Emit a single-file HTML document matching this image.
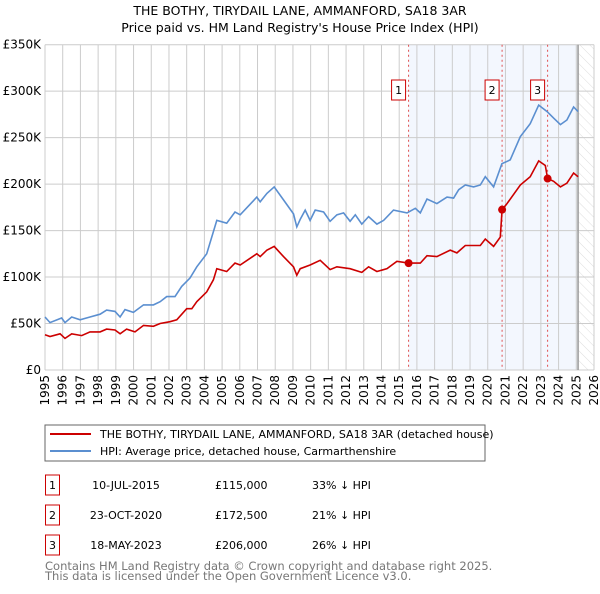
<!DOCTYPE html>
<html><head><meta charset="utf-8"><style>
body{margin:0;background:#fff;font-family:"DejaVu Sans","Liberation Sans",sans-serif;}
svg text{font-family:"DejaVu Sans","Liberation Sans",sans-serif;}
</style></head><body>
<svg id="chart" width="600" height="590" xmlns="http://www.w3.org/2000/svg">
<defs><pattern id="hatch" width="7" height="7" patternUnits="userSpaceOnUse" patternTransform="rotate(-45)"><line x1="0" y1="0" x2="0" y2="7" stroke="#d4d4d4" stroke-width="0.8"/></pattern></defs>
<text x="300" y="15" text-anchor="middle" font-size="12.5" fill="#000">THE BOTHY, TIRYDAIL LANE, AMMANFORD, SA18 3AR</text>
<text x="300" y="32" text-anchor="middle" font-size="12.5" fill="#000">Price paid vs. HM Land Registry's House Price Index (HPI)</text>
<g id="grid"></g><g id="marks"></g>
<rect x="45" y="425" width="440" height="36" fill="#fff" stroke="#666"/>
<line x1="50" y1="434" x2="91" y2="434" stroke="#cc0000" stroke-width="2"/>
<text x="100" y="438" font-size="11">THE BOTHY, TIRYDAIL LANE, AMMANFORD, SA18 3AR (detached house)</text>
<line x1="50" y1="451" x2="91" y2="451" stroke="#5b8fd0" stroke-width="2"/>
<text x="100" y="455" font-size="11">HPI: Average price, detached house, Carmarthenshire</text>
<g id="table"></g>
<text x="45" y="570" font-size="11.5" fill="#777">Contains HM Land Registry data © Crown copyright and database right 2025.</text>
<text x="45" y="580" font-size="11.5" fill="#777">This data is licensed under the Open Government Licence v3.0.</text>
</svg>
<script>
const hpiYears=[1995.00,1995.28,1995.94,1996.13,1996.51,1996.98,1997.54,1998.11,1998.48,1998.95,1999.24,1999.52,1999.99,2000.56,2001.12,2001.5,2001.87,2002.34,2002.72,2003.19,2003.57,2004.13,2004.70,2005.26,2005.73,2006.02,2006.96,2007.15,2007.53,2007.94,2008.47,2009.03,2009.22,2009.41,2009.69,2009.97,2010.26,2010.73,2011.1,2011.48,2011.86,2012.23,2012.52,2012.89,2013.27,2013.74,2014.12,2014.68,2015.44,2015.91,2016.19,2016.57,2017.13,2017.7,2018.07,2018.36,2018.73,2019.2,2019.58,2019.86,2020.33,2020.8,2021.27,2021.84,2022.4,2022.88,2023.35,2023.72,2024.1,2024.47,2024.85,2025.1];
const hpiValues=[57,51,56,51,57,54,57,60,64.5,63,57,65,62,70,70,73.5,79,79,90,99,111,125,161,158,170,167,186,181,190,197,183,168,154,162,172,161,172,170,160,167,169,160,167,157,165,157,161,172,169,174,169,184,179,186,185,194,199,197,199,208,197,222,226,251,265,285,278,271,264,269,283,278];
const redYears=[1995.00,1995.28,1995.85,1996.13,1996.51,1997.07,1997.54,1998.11,1998.48,1998.95,1999.24,1999.61,2000.08,2000.56,2001.12,2001.5,2002.06,2002.44,2003.0,2003.29,2003.57,2004.13,2004.51,2004.70,2005.26,2005.73,2006.02,2006.96,2007.15,2007.53,2007.94,2008.47,2009.03,2009.22,2009.41,2009.97,2010.54,2011.1,2011.48,2012.23,2012.89,2013.27,2013.74,2014.31,2014.87,2015.53,2016.19,2016.57,2017.13,2017.88,2018.26,2018.73,2019.58,2019.86,2020.33,2020.71,2020.81,2021.09,2021.84,2022.4,2022.88,2023.25,2023.38,2023.72,2024.1,2024.47,2024.85,2025.1];
const redValues=[38,36,39,34,39,37,41,41,44,43,39,44,41,48,47,50,52,54,66,66,73.5,84,97,109,106,115,113,125,122,129,133,122,111,102,109,113,118,108,111,109,105,111,106,109,117,115,115,123,122,129,126,134,134,141,133,143,172.5,179,199,208,225,220,206,203,197,201,212,208];
const saleYears=[2015.53,2020.81,2023.38];
const saleValues=[115,172.5,206];
const saleLabels=["1","2","3"];
const saleDates=["10-JUL-2015","23-OCT-2020","18-MAY-2023"];
const salePrices=["£115,000","£172,500","£206,000"];
const saleDiffs=["33% ↓ HPI","21% ↓ HPI","26% ↓ HPI"];
const yTicks=[0,50,100,150,200,250,300,350];
const yTickLabels=["£0","£50K","£100K","£150K","£200K","£250K","£300K","£350K"];
const xTicks=[1995,1996,1997,1998,1999,2000,2001,2002,2003,2004,2005,2006,2007,2008,2009,2010,2011,2012,2013,2014,2015,2016,2017,2018,2019,2020,2021,2022,2023,2024,2025,2026];

const X0=45,X1=594,Y0=370,Y1=44.7;
const xs=y=>X0+(y-1995)/31*(X1-X0);
const ys=v=>Y0-v/350*(Y0-Y1);
const NS="http://www.w3.org/2000/svg";
function mk(parent,tag,attrs){const e=document.createElementNS(NS,tag);for(const k in attrs)e.setAttribute(k,attrs[k]);parent.appendChild(e);return e;}
const grid=document.getElementById('grid'),marks=document.getElementById('marks'),table=document.getElementById('table');
let r=mk(grid,'rect',{x:xs(saleYears[0]),y:Y1,width:xs(2025.1)-xs(saleYears[0]),height:Y0-Y1,fill:'#f3f7fe'});


r=mk(grid,'rect',{x:xs(2025.1),y:Y1,width:X1-xs(2025.1),height:Y0-Y1,fill:'url(#hatch)'});


yTicks.forEach((v,i)=>{
  const l=mk(grid,'line',{x1:X0,x2:X1,y1:ys(v),y2:ys(v),stroke:'#ccc'});
  
  
  const t=mk(grid,'text',{x:X0-4,y:ys(v)+4,'text-anchor':'end','font-size':'12'});
  t.textContent=yTickLabels[i];
  
  
});
xTicks.forEach(y=>{
  const l=mk(grid,'line',{x1:xs(y),x2:xs(y),y1:Y1,y2:Y0,stroke:'#ccc'});
  
  
  const t=mk(grid,'text',{x:0,y:0,'text-anchor':'end','font-size':'12',transform:`translate(${xs(y)+4},${Y0+5}) rotate(-90)`});
  t.textContent=y;
  
  
});
let b=mk(grid,'line',{x1:xs(2025.1),x2:xs(2025.1),y1:Y1,y2:Y0,stroke:'#999','stroke-width':1.5});


saleYears.forEach((y,i)=>{
  const l=mk(marks,'line',{x1:xs(y),x2:xs(y),y1:Y1,y2:Y0,stroke:'#e05050','stroke-dasharray':'2,3'});
  
  
});
const path=(xsArr,vals)=>xsArr.map((y,i)=>(i?'L':'M')+xs(y).toFixed(1)+','+ys(vals[i]).toFixed(1)).join('');
let p=mk(marks,'path',{d:path(hpiYears,hpiValues),fill:'none',stroke:'#5b8fd0','stroke-width':1.6});


p=mk(marks,'path',{d:path(redYears,redValues),fill:'none',stroke:'#cc0000','stroke-width':1.6});


saleYears.forEach((y,i)=>{
  const c=mk(marks,'circle',{cx:xs(y),cy:ys(saleValues[i]),r:4,fill:'#cc0000'});
  
  
  const g=mk(marks,'g',{});
  
  
  mk(g,'rect',{x:xs(y)-17,y:80,width:14,height:20,fill:'#fff',stroke:'#cc0000'});
  const t=mk(g,'text',{x:xs(y)-10,y:94,'text-anchor':'middle','font-size':'11'});t.textContent=saleLabels[i];
  const row=mk(table,'g',{});
  
  
  const yy=475+i*30;
  mk(row,'rect',{x:45.5,y:yy,width:14,height:20,fill:'#fff',stroke:'#cc0000'});
  let tt=mk(row,'text',{x:52.5,y:yy+14,'text-anchor':'middle','font-size':'11'});tt.textContent=saleLabels[i];
  tt=mk(row,'text',{x:126,y:yy+14,'text-anchor':'middle','font-size':'11'});tt.textContent=saleDates[i];
  tt=mk(row,'text',{x:215,y:yy+14,'font-size':'11'});tt.textContent=salePrices[i];
  tt=mk(row,'text',{x:312,y:yy+14,'font-size':'11'});tt.textContent=saleDiffs[i];
});
</script>
</body></html>
